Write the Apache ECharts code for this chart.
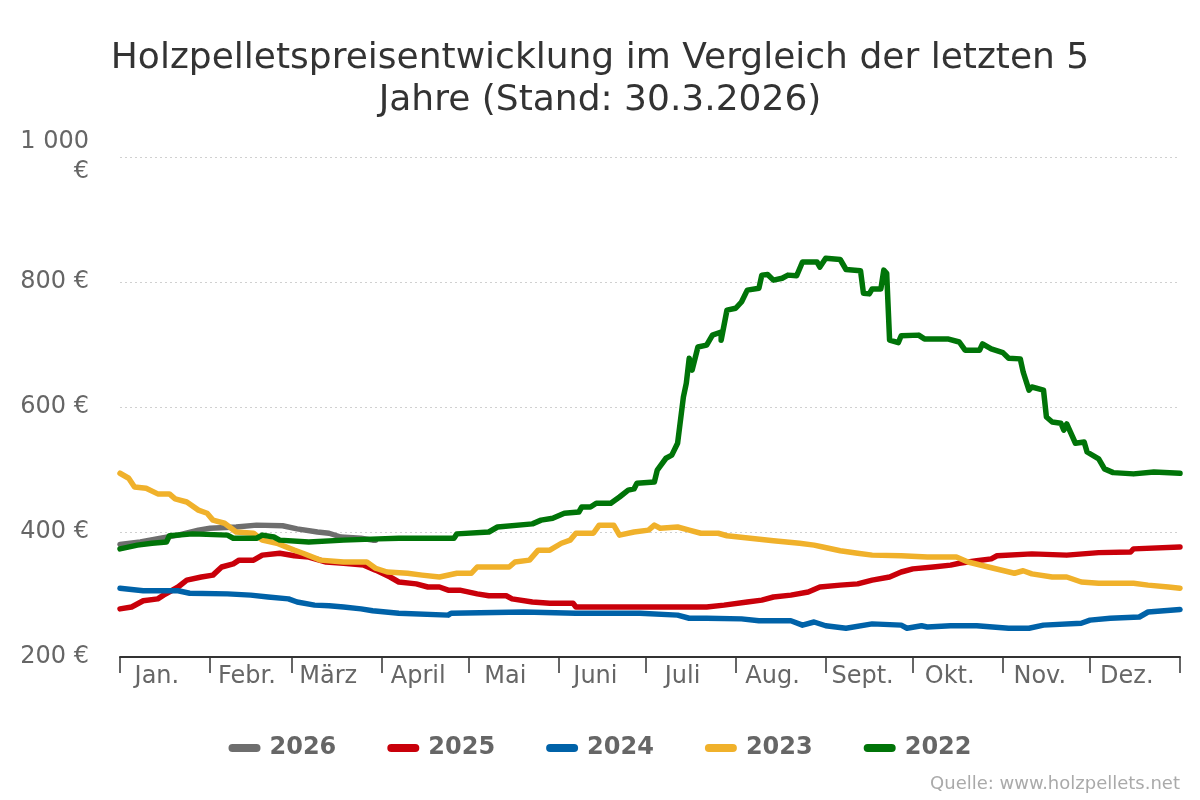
<!DOCTYPE html>
<html>
<head>
<meta charset="utf-8">
<script src="https://cdn.jsdelivr.net/npm/echarts@6/dist/echarts.min.js"></script>
<style>html,body{margin:0;padding:0;background:#fff}#c{width:1200px;height:800px}</style>
</head>
<body>
<div id="c"></div>
<script>
// Month names and the day-of-year where each month starts
const monthNames = ['Jan.','Febr.','März','April','Mai','Juni','Juli','Aug.','Sept.','Okt.','Nov.','Dez.'];
const monthStarts = [0,31,59,90,120,151,181,212,243,273,304,334,365];
const yTicks = [200,400,600,800,1000];

// [day of year, €] per year
const s2026 = [[0,380],[7,384],[14,390],[20,395],[27,403],[31,406],[40,408],[47,411],[56,410],[61,405],[68,400],[72,398],[76,392],[83,390],[87,387],[88,387]];
const s2025 = [[0,277],[4,280],[8,290],[13,293],[15,299],[20,312],[23,323],[28,328],[32,331],[35,344],[39,349],[41,355],[46,355],[49,363],[55,366],[60,362],[65,360],[71,352],[77,350],[84,347],[88,339],[93,328],[96,320],[102,317],[106,312],[110,312],[113,307],[117,307],[123,301],[127,298],[133,298],[135,293],[142,288],[148,286],[156,286],[157,280],[173,280],[202,280],[208,283],[216,288],[221,291],[225,296],[231,299],[237,304],[241,312],[248,315],[254,317],[259,323],[265,328],[269,336],[273,341],[280,344],[286,347],[289,350],[295,354],[300,357],[302,362],[314,365],[326,363],[337,367],[348,368],[349,373],[365,376]];
const s2024 = [[0,310],[8,306],[20,306],[24,302],[37,301],[45,299],[51,296],[58,293],[61,288],[67,283],[72,282],[77,280],[83,277],[87,274],[96,270],[113,267],[114,270],[139,272],[157,270],[179,270],[192,267],[196,262],[202,262],[214,261],[220,258],[231,258],[235,251],[239,256],[243,250],[250,246],[259,253],[269,251],[271,246],[276,250],[278,248],[286,250],[295,250],[306,246],[313,246],[318,251],[331,254],[334,259],[341,262],[351,264],[354,272],[365,276]];
const s2023 = [[0,494],[3,486],[5,472],[9,470],[13,461],[17,461],[19,453],[23,448],[27,435],[30,430],[32,419],[36,414],[40,400],[46,398],[49,387],[54,382],[60,371],[63,366],[69,355],[77,352],[85,352],[88,342],[92,336],[99,334],[104,331],[110,328],[116,334],[121,334],[123,344],[134,344],[136,352],[141,355],[144,371],[148,371],[152,382],[155,387],[157,398],[163,398],[165,411],[170,411],[172,395],[177,400],[182,403],[184,411],[186,406],[192,408],[196,403],[200,398],[206,398],[209,394],[217,390],[225,386],[234,382],[239,379],[242,376],[248,370],[254,366],[259,363],[269,362],[278,360],[288,360],[292,352],[299,344],[308,334],[311,338],[314,333],[321,328],[326,328],[331,320],[337,318],[349,318],[354,315],[361,312],[365,310]];
const s2022 = [[0,373],[6,379],[11,382],[16,384],[17,394],[25,397],[37,395],[39,390],[47,390],[49,395],[53,392],[55,387],[65,384],[77,387],[89,389],[96,390],[115,390],[116,397],[127,400],[130,408],[142,413],[145,419],[149,422],[153,430],[158,432],[159,440],[162,440],[164,446],[169,446],[172,456],[175,467],[177,469],[178,478],[184,480],[185,499],[188,518],[190,523],[192,542],[194,616],[195,638],[196,678],[197,659],[199,696],[202,699],[204,715],[207,720],[207,707],[209,755],[212,758],[214,768],[216,787],[220,790],[221,811],[223,812],[225,803],[228,806],[230,811],[233,810],[235,832],[240,832],[241,824],[243,838],[248,836],[250,820],[255,818],[256,782],[258,781],[259,789],[262,789],[263,819],[264,814],[265,707],[268,703],[269,714],[275,715],[277,709],[285,709],[289,704],[291,691],[296,691],[297,701],[300,693],[304,687],[306,678],[310,677],[311,656],[313,627],[314,632],[318,627],[319,584],[321,576],[324,574],[325,563],[326,573],[329,542],[332,544],[333,528],[337,517],[339,501],[342,495],[349,493],[356,496],[365,494]];

const seriesNames = ['2026','2025','2024','2023','2022'];
const seriesData = [s2026, s2025, s2024, s2023, s2022];
const colors = ['#6e6e6e','#c9000a','#0062a8','#f0b12b','#007408'];

const labelOffset = 12.7;
const labelValues = monthStarts.slice(0,12).map(d => d + labelOffset);

const chart = echarts.init(document.getElementById('c'));
const FONT = 'DejaVu Sans';
chart.setOption({
  animation: false,
  textStyle: { fontFamily: FONT },
  title: {
    text: 'Holzpelletspreisentwicklung im Vergleich der letzten 5\nJahre (Stand: 30.3.2026)',
    left: 'center',
    top: 33,
    textStyle: { fontFamily: FONT, fontSize: 36, fontWeight: 'normal', color: '#333', lineHeight: 42 }
  },
  legend: {
    data: seriesNames,
    bottom: 35,
    left: 'center',
    itemWidth: 32,
    itemHeight: 8,
    itemGap: 51,
    icon: 'path://M4,0 L28,0 A4,4 0 0 1 28,8 L4,8 A4,4 0 0 1 4,0 Z',
    textStyle: { fontFamily: FONT, fontSize: 24, fontWeight: 'bold', color: '#666', padding: [0,0,0,4] }
  },
  grid: { left: 120, right: 20, top: 157, bottom: 143 },
  xAxis: {
    type: 'value',
    min: 0,
    max: 365,
    splitLine: { show: false },
    axisLine: { show: true, lineStyle: { color: '#333', width: 2 } },
    axisTick: { show: true, customValues: monthStarts, length: 16, lineStyle: { color: '#333', width: 1.5 } },
    axisLabel: {
      customValues: labelValues,
      margin: 8,
      color: '#666',
      fontSize: 24,
      fontFamily: FONT,
      formatter: v => {
        const i = labelValues.findIndex(x => Math.abs(x - v) < 0.01);
        return i >= 0 ? monthNames[i] : '';
      }
    }
  },
  yAxis: {
    type: 'value',
    min: 200,
    max: 1000,
    interval: 200,
    axisLine: { show: false },
    axisTick: { show: false },
    splitLine: { show: true, lineStyle: { color: '#d0d0d0', type: [2, 3], width: 1 } },
    axisLabel: {
      color: '#666',
      fontSize: 24,
      fontFamily: FONT,
      margin: 31,
      lineHeight: 30,
      align: 'right',
      formatter: v => v >= 1000 ? (String(v).replace(/(\d)(\d{3})$/, '$1 $2') + '\n€') : (v + ' €')
    }
  },
  series: seriesNames.map((n, i) => ({
    name: n,
    type: 'line',
    data: seriesData[i],
    showSymbol: false,
    symbol: 'none',
    color: colors[i],
    lineStyle: { width: 5.5, color: colors[i], cap: 'round', join: 'round' },
    itemStyle: { color: colors[i] },
    z: 2 + i
  })),
  graphic: [{
    type: 'text',
    right: 20,
    top: 775,
    style: { text: 'Quelle: www.holzpellets.net', fill: '#aaa', font: '18px "DejaVu Sans"', textAlign: 'right' }
  }]
});
</script>
</body>
</html>
